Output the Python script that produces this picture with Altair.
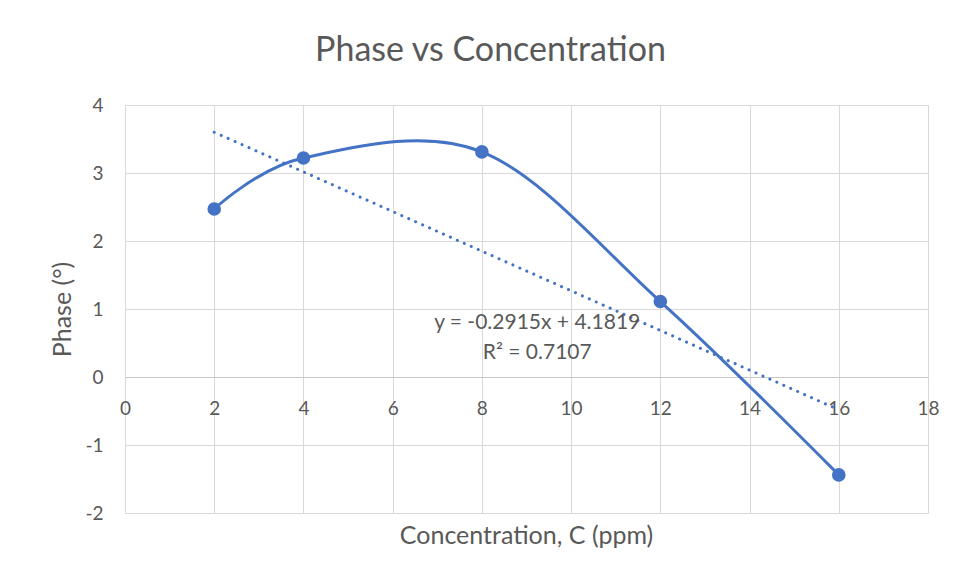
import altair as alt
import pandas as pd

# Data
conc = [2, 4, 8, 12, 16]
phase = [2.47, 3.22, 3.31, 1.11, -1.44]

x_ticks = [0, 2, 4, 6, 8, 10, 12, 14, 16, 18]
y_ticks = [-2, -1, 0, 1, 2, 3, 4]

ann_x = [9.24, 9.24]
ann_y = [0.79, 0.35]
ann_text = ["y = -0.2915x + 4.1819", "R² = 0.7107"]

df = pd.DataFrame({"x": conc, "y": phase})
ann_df = pd.DataFrame({"x": ann_x, "y": ann_y, "t": ann_text})

BLUE = "#4472C4"
TXT = "#595959"
GRID = "#d9d9d9"
FONT = "Lato"
LBL = "datum.value < 0 ? '-' + abs(datum.value) : '' + datum.value"

xscale = alt.Scale(domain=[0, 18], nice=False, zero=False)
yscale = alt.Scale(domain=[-2, 4], nice=False, zero=False)

xenc = alt.X(
    "x:Q",
    scale=xscale,
    axis=alt.Axis(
        values=x_ticks,
        labelExpr=LBL,
        offset=-136,
        grid=True,
        gridColor=GRID,
        domain=True,
        domainColor="#c8c8c8",
        ticks=False,
        labelPadding=22,
        labelFontSize=19,
        labelColor=TXT,
        labelFont=FONT,
        labelFlush=False,
        labelOverlap=False,
        title="Concentration, C (ppm)",
        titleFontSize=25,
        titleFontWeight="normal",
        titleColor=TXT,
        titleFont=FONT,
        titleX=401,
        titleY=166,
        titleBaseline="alphabetic",
        titleAnchor="middle",
        titleAlign="center",
    ),
)
yenc = alt.Y(
    "y:Q",
    scale=yscale,
    axis=alt.Axis(
        values=y_ticks,
        labelExpr=LBL,
        grid=True,
        gridColor=GRID,
        domain=False,
        ticks=False,
        labelPadding=22,
        labelFontSize=19,
        labelColor=TXT,
        labelFont=FONT,
        labelFlush=False,
        labelOverlap=False,
        title="Phase (°)",
        titleFontSize=25,
        titleFontWeight="normal",
        titleColor=TXT,
        titleFont=FONT,
        titleX=-63,
        titleY=204,
        titleAngle=-90,
        titleBaseline="middle",
        titleAlign="center",
    ),
)

base = alt.Chart(df)

curve = base.mark_line(interpolate="cardinal", color=BLUE, strokeWidth=3).encode(x=xenc, y=yenc)
pts = base.mark_circle(size=185, color=BLUE, opacity=1).encode(x="x:Q", y="y:Q")
trend = (
    base.transform_regression("x", "y", extent=[2, 16])
    .mark_line(color=BLUE, strokeWidth=3, strokeDash=[0.1, 7.5], strokeCap="round")
    .encode(x="x:Q", y="y:Q")
)
ann = (
    alt.Chart(ann_df)
    .mark_text(fontSize=21, color=TXT, font=FONT, align="center", baseline="middle")
    .encode(x="x:Q", y="y:Q", text="t:N")
)

chart = (
    alt.layer(curve, trend, pts, ann)
    .properties(
        width=803,
        height=408,
        autosize=alt.AutoSizeParams(type="none"),
        padding={"left": 117, "top": 97, "right": 28, "bottom": 58},
        title=alt.TitleParams(
            "Phase vs Concentration",
            fontSize=34,
            fontWeight="normal",
            color=TXT,
            font=FONT,
            anchor="middle",
            dx=-36,
            dy=41,
            offset=42,
            baseline="alphabetic",
        ),
    )
    .configure_view(stroke=None)
    .configure(background="white")
)

chart.save("out.html", embed_options={"renderer": "svg", "actions": False})
